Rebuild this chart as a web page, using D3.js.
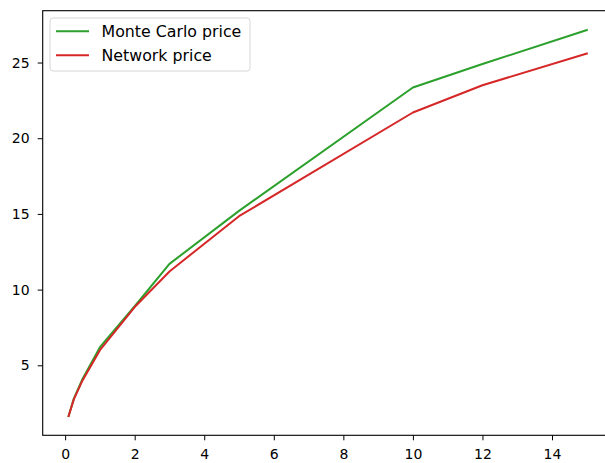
<!DOCTYPE html>
<html>
<head>
<meta charset="utf-8">
<script src="https://cdn.jsdelivr.net/npm/d3@7"></script>
<style>
  body { margin: 0; background: #fff; }
  text { font-family: "DejaVu Sans", sans-serif; }
</style>
</head>
<body>
<div id="chart"></div>
<script>
// maturities / strikes on x, prices on y
const xs = [0.1, 0.25, 0.5, 1, 2, 3, 5, 10, 12, 15];
const mcPrice = [1.65, 2.8, 4.1, 6.2, 8.9, 11.7, 15.2, 23.35, 24.9, 27.15];
const netPrice = [1.65, 2.75, 4.0, 6.0, 8.85, 11.2, 14.85, 21.7, 23.5, 25.6];
const seriesNames = ['Monte Carlo price', 'Network price'];
const xTicks = [0, 2, 4, 6, 8, 10, 12, 14];
const yTicks = [5, 10, 15, 20, 25];

const width = 605, height = 463;
const margin = { left: 42.7, top: 10.7, bottom: 435.3 };
const plotW = 570; // right spine falls outside the picture, as in the original

const svg = d3.select('#chart').append('svg')
    .attr('width', width)
    .attr('height', height);

// matplotlib-like 5% margins
const pad = (lo, hi) => [lo - 0.05 * (hi - lo), hi + 0.05 * (hi - lo)];
const xExt = d3.extent(xs);
const yExt = d3.extent(mcPrice.concat(netPrice));

const x = d3.scaleLinear().domain(pad(xExt[0], xExt[1])).range([margin.left, margin.left + plotW]);
const y = d3.scaleLinear().domain(pad(yExt[0], yExt[1])).range([margin.bottom, margin.top]);

const line = vals => d3.line()
    .x((d, i) => x(xs[i]))
    .y(d => y(d))(vals);

const colors = ['#2ca02c', '#d62728'];

[mcPrice, netPrice].forEach((vals, k) => {
    svg.append('path')
        .attr('d', line(vals))
        .attr('fill', 'none')
        .attr('stroke', colors[k])
        .attr('stroke-width', 2)
        .attr('stroke-linejoin', 'round')
        .attr('stroke-linecap', 'square');
});

// axes
const xAxis = svg.append('g')
    .attr('transform', 'translate(0,' + margin.bottom + ')')
    .call(d3.axisBottom(x).tickValues(xTicks).tickSize(5).tickPadding(9.2).tickFormat(d3.format('d')));
const yAxis = svg.append('g')
    .attr('transform', 'translate(' + margin.left + ',0)')
    .call(d3.axisLeft(y).tickValues(yTicks).tickSize(5).tickPadding(8).tickFormat(d3.format('d')));

[xAxis, yAxis].forEach(g => {
    g.select('.domain').remove();
    g.selectAll('line').attr('stroke', '#000').attr('stroke-width', 1);
    g.selectAll('text').attr('fill', '#000').style('font-size', '14px');
});

// frame
svg.append('rect')
    .attr('x', margin.left)
    .attr('y', margin.top)
    .attr('width', plotW)
    .attr('height', margin.bottom - margin.top)
    .attr('fill', 'none')
    .attr('stroke', '#000')
    .attr('stroke-width', 1.1);

// legend
const lg = svg.append('g').attr('transform', 'translate(50,18)');
lg.append('rect')
    .attr('width', 200)
    .attr('height', 53)
    .attr('rx', 3)
    .attr('fill', 'rgba(255,255,255,0.8)')
    .attr('stroke', '#d6d6d6');
seriesNames.forEach((name, i) => {
    const row = lg.append('g').attr('transform', 'translate(0,' + (13.3 + i * 24) + ')');
    row.append('line')
        .attr('x1', 6).attr('x2', 39)
        .attr('stroke', colors[i])
        .attr('stroke-width', 2);
    row.append('text')
        .attr('x', 51.5)
        .attr('dy', '0.35em')
        .style('font-size', '15.8px')
        .attr('fill', '#000')
        .text(name);
});
</script>
</body>
</html>
